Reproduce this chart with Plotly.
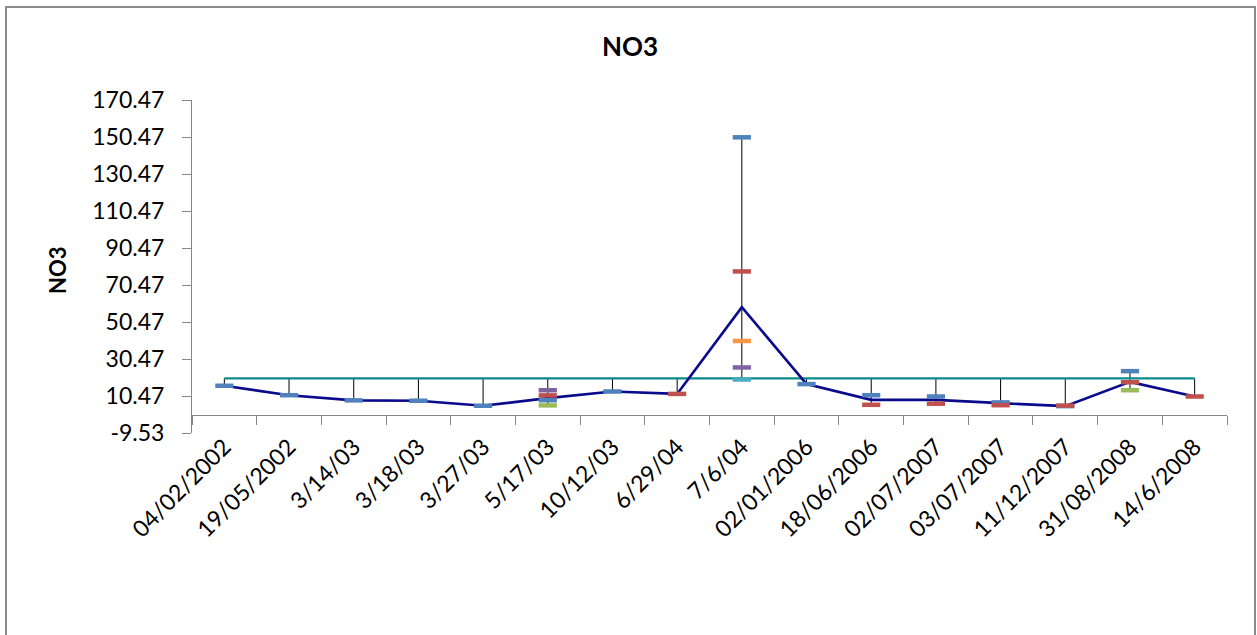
import plotly.graph_objects as go

# ---- data -------------------------------------------------------------
categories = ["04/02/2002", "19/05/2002", "3/14/03", "3/18/03", "3/27/03",
              "5/17/03", "10/12/03", "6/29/04", "7/6/04", "02/01/2006",
              "18/06/2006", "02/07/2007", "03/07/2007", "11/12/2007",
              "31/08/2008", "14/6/2008"]

sample_1 = [16.0, 10.9, 8.1, 7.9, 5.2, 8.2, 12.9, None, 150.3, 16.9,
            10.9, 10.2, 7.0, 5.0, 23.9, None]
sample_2 = [None, None, None, None, None, 10.8, None, 11.6, 77.8, None,
            5.7, 6.3, 5.5, 5.3, 17.9, 10.2]
sample_3 = [None, None, None, None, None, 5.4, None, None, None, None,
            None, None, None, None, 13.6, None]
sample_4 = [None, None, None, None, None, 13.6, None, None, 25.9, None,
            None, None, None, None, None, None]
sample_5 = [None, None, None, None, None, None, None, None, 19.4, None,
            None, None, None, None, None, None]
sample_6 = [None, None, None, None, None, None, None, None, 40.2, None,
            None, None, None, None, None, None]

mean_no3 = [16.0, 10.9, 8.1, 7.9, 5.2, 9.3, 12.9, 11.6, 58.5, 16.9,
            8.4, 8.4, 6.6, 5.0, 18.1, 10.2]
limit_no3 = [20.0] * len(categories)

y_tick_labels = ["-9.53", "10.47", "30.47", "50.47", "70.47", "90.47",
                 "110.47", "130.47", "150.47", "170.47"]

# ---- styling ----------------------------------------------------------
W, H = 1257, 635
ML, MR, MT, MB = 192, 30, 100, 202
PW, PH = W - ML - MR, H - MT - MB
FONT = "Lato"
AXIS_GREY = "#878787"

sample_series = [
    (sample_1, "#4F81BD"),
    (sample_2, "#C0504D"),
    (sample_3, "#9BBB59"),
    (sample_4, "#8064A2"),
    (sample_5, "#4BACC6"),
    (sample_6, "#F79646"),
]

y_ticks = [float(t) for t in y_tick_labels]
y_range = [y_ticks[0], y_ticks[-1]]


def px_x(px):
    return (px - ML) / PW


def px_y(py):
    return (H - MB - py) / PH


fig = go.Figure()

# high-low lines: span of all series at each category
hl_x, hl_y = [], []
all_series = [s for s, _ in sample_series] + [mean_no3, limit_no3]
for i, cat in enumerate(categories):
    vals = [s[i] for s in all_series if s[i] is not None]
    hl_x += [cat, cat, None]
    hl_y += [max(vals), min(vals), None]
fig.add_trace(go.Scatter(x=hl_x, y=hl_y, mode="lines",
                         line=dict(color="#000000", width=1),
                         hoverinfo="skip", showlegend=False))

# guideline value
fig.add_trace(go.Scatter(x=categories, y=limit_no3, mode="lines",
                         line=dict(color="#0A8A8A", width=2.2),
                         showlegend=False))

# mean line
fig.add_trace(go.Scatter(x=categories, y=mean_no3, mode="lines",
                         line=dict(color="#0A0A8C", width=2.6),
                         showlegend=False))

# individual sample values as dash markers
for values, color in sample_series:
    fig.add_trace(go.Scatter(
        x=categories, y=values, mode="markers",
        marker=dict(symbol="line-ew", size=13,
                    line=dict(color=color, width=4.5)),
        showlegend=False))

fig.update_layout(
    width=W, height=H,
    margin=dict(l=ML, r=MR, t=MT, b=MB, pad=0),
    paper_bgcolor="white", plot_bgcolor="white",
    font=dict(family=FONT, color="#000000"),
    title=dict(text="<b>NO3</b>", font=dict(size=26, family=FONT),
               x=630 / W, xref="container", xanchor="center",
               y=1 - 47 / H, yref="container", yanchor="middle"),
    xaxis=dict(type="category", categoryorder="array",
               categoryarray=categories,
               range=[-0.5, len(categories) - 0.5],
               anchor="free",
               position=(0 - y_range[0]) / (y_range[1] - y_range[0]),
               showline=True, linecolor=AXIS_GREY, linewidth=1,
               ticks="outside", tickson="boundaries", ticklen=9,
               tickcolor=AXIS_GREY, tickwidth=1, ticklabelstandoff=8,
               tickangle=-45, tickfont=dict(size=23, family=FONT),
               showgrid=False, zeroline=False, automargin=False),
    yaxis=dict(range=y_range, tickmode="array", tickvals=y_ticks,
               ticktext=y_tick_labels,
               showline=True, linecolor=AXIS_GREY, linewidth=1,
               ticks="outside", ticklen=9, tickcolor=AXIS_GREY,
               tickwidth=1, ticklabelstandoff=13,
               tickfont=dict(size=23, family=FONT),
               showgrid=False, zeroline=False, automargin=False),
    annotations=[dict(text="<b>NO3</b>", textangle=-90,
                      xref="paper", yref="paper",
                      x=px_x(57), y=px_y(270),
                      xanchor="center", yanchor="middle",
                      showarrow=False, font=dict(size=22, family=FONT))],
    shapes=[dict(type="rect", xref="paper", yref="paper",
                 x0=px_x(6), x1=px_x(1255), y0=px_y(700), y1=px_y(7),
                 line=dict(color="#8C8C8C", width=2), layer="below")],
)

fig.write_html("out.html")
